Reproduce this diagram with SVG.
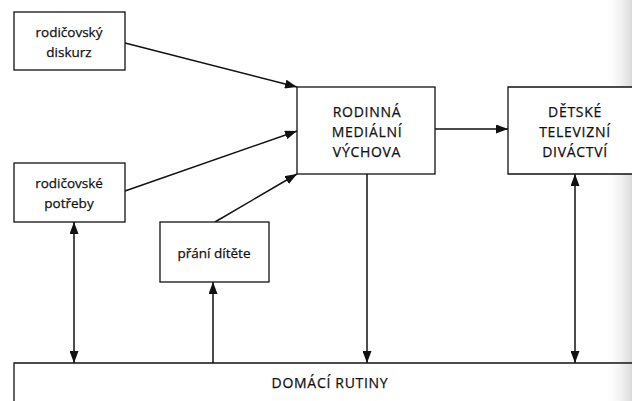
<svg xmlns="http://www.w3.org/2000/svg" width="632" height="401" viewBox="0 0 632 401">
<defs>
<marker id="ah" viewBox="0 0 12 9" refX="12" refY="4.5" markerWidth="12" markerHeight="9" markerUnits="userSpaceOnUse" orient="auto-start-reverse">
<path d="M0,0 L12,4.5 L0,9 Z" fill="#111"/>
</marker>
<linearGradient id="scan" x1="0" y1="0" x2="1" y2="0">
<stop offset="0" stop-color="#ffffff" stop-opacity="0"/>
<stop offset="1" stop-color="#cfcfcf" stop-opacity="0.8"/>
</linearGradient>
<style>
.box{fill:#fff;stroke:#111;stroke-width:1.3}
.lc{font-family:"Open Sans","Noto Sans","DejaVu Sans",sans-serif;font-size:13.5px;fill:#111;stroke:#111;stroke-width:0.25;text-anchor:middle}
.uc{font-family:"Open Sans","Noto Sans","DejaVu Sans",sans-serif;font-size:14px;fill:#111;stroke:#111;stroke-width:0.25;text-anchor:middle;letter-spacing:0.7px}
.ln{fill:none;stroke:#111;stroke-width:1.5}
</style>
</defs>
<rect width="632" height="401" fill="#fff"/>
<rect x="604" y="0" width="28" height="401" fill="url(#scan)"/>
<g id="connectors">
<line class="ln" x1="125" y1="43" x2="297" y2="87" marker-end="url(#ah)"/>
<line class="ln" x1="125" y1="191" x2="297" y2="131" marker-end="url(#ah)"/>
<line class="ln" x1="215" y1="222" x2="297" y2="174" marker-end="url(#ah)"/>
<line class="ln" x1="435" y1="129" x2="508" y2="129" marker-end="url(#ah)"/>
<line class="ln" x1="367" y1="174" x2="367" y2="363" marker-end="url(#ah)"/>
<line class="ln" x1="575" y1="174" x2="575" y2="363" marker-start="url(#ah)" marker-end="url(#ah)"/>
<line class="ln" x1="74" y1="222" x2="74" y2="363" marker-start="url(#ah)" marker-end="url(#ah)"/>
<line class="ln" x1="213" y1="363" x2="213" y2="282" marker-end="url(#ah)"/>
</g>
<g id="rodicovsky-diskurz">
<rect class="box" x="14" y="12" width="111" height="58"/>
<text class="lc" x="69" y="37">rodičovský</text>
<text class="lc" x="69" y="57">diskurz</text>
</g>
<g id="rodicovske-potreby">
<rect class="box" x="14" y="163" width="111" height="59"/>
<text class="lc" x="69" y="188">rodičovské</text>
<text class="lc" x="69" y="208">potřeby</text>
</g>
<g id="prani-ditete">
<rect class="box" x="160" y="222" width="109" height="60"/>
<text class="lc" x="214" y="258">přání dítěte</text>
</g>
<g id="rodinna-medialni-vychova">
<rect class="box" x="297" y="87" width="138" height="87"/>
<text class="uc" x="367" y="117">RODINNÁ</text>
<text class="uc" x="367" y="137">MEDIÁLNÍ</text>
<text class="uc" x="367" y="157">VÝCHOVA</text>
</g>
<g id="detske-televizni-divactvi">
<path class="box" d="M640,87 H508 V174 H640"/>
<text class="uc" x="575" y="117">DĚTSKÉ</text>
<text class="uc" x="575" y="137">TELEVIZNÍ</text>
<text class="uc" x="575" y="157">DIVÁCTVÍ</text>
</g>
<g id="domaci-rutiny">
<path class="box" d="M14,405 V363 H640"/>
<text class="uc" x="330" y="388">DOMÁCÍ RUTINY</text>
</g>
</svg>
